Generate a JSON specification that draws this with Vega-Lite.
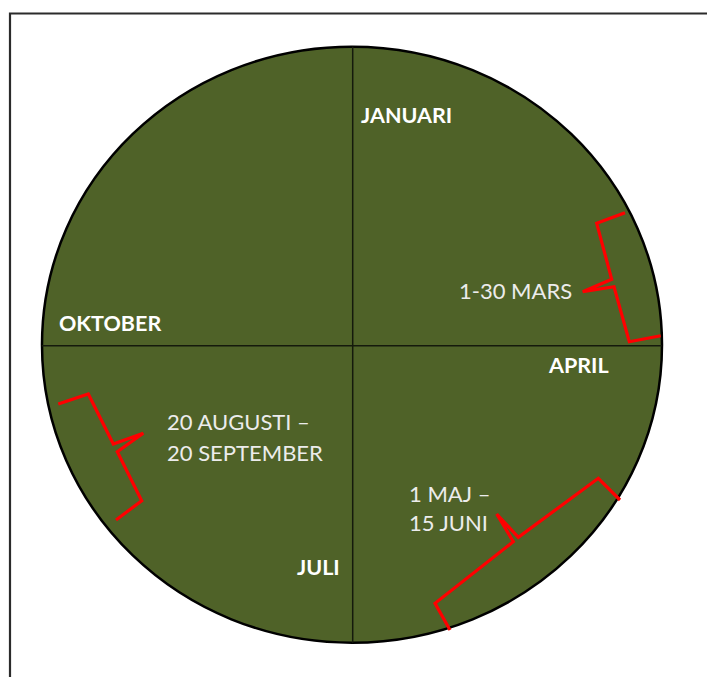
{
  "$schema": "https://vega.github.io/schema/vega-lite/v6.json",
  "width": 707,
  "height": 677,
  "padding": 0,
  "autosize": {"type": "none"},
  "background": "#ffffff",
  "config": {"view": {"stroke": null}},
  "datasets": {
    "frame": [{"x": 10, "y": 13.5, "x2": 740, "y2": 720}],
    "disc": [{"x": 352, "y": 344.7}],
    "cross": [
      {"x": 352.7, "y": 46.7, "x2": 352.7, "y2": 642.7},
      {"x": 41.7, "y": 345.7, "x2": 661.7, "y2": 345.7}
    ],
    "months": [
      {"label": "JANUARI", "x": 361, "y": 117},
      {"label": "APRIL", "x": 549, "y": 367},
      {"label": "OKTOBER", "x": 59, "y": 325},
      {"label": "JULI", "x": 297, "y": 569}
    ],
    "periods": [
      {"label": "1-30 MARS", "x": 459, "y": 292},
      {"label": "20 AUGUSTI –", "x": 167, "y": 423},
      {"label": "20 SEPTEMBER", "x": 167, "y": 454},
      {"label": "1 MAJ –", "x": 409, "y": 495},
      {"label": "15 JUNI", "x": 409, "y": 524}
    ],
    "braces": [
      {"brace": "mars", "order": 1, "x": 625, "y": 212.7},
      {"brace": "mars", "order": 2, "x": 596.7, "y": 223.3},
      {"brace": "mars", "order": 3, "x": 611.7, "y": 279.3},
      {"brace": "mars", "order": 4, "x": 582.7, "y": 291.7},
      {"brace": "mars", "order": 5, "x": 614, "y": 286.7},
      {"brace": "mars", "order": 6, "x": 629.3, "y": 341.7},
      {"brace": "mars", "order": 7, "x": 660.7, "y": 335.7},
      {"brace": "aug", "order": 1, "x": 58.3, "y": 404},
      {"brace": "aug", "order": 2, "x": 88.3, "y": 394},
      {"brace": "aug", "order": 3, "x": 113.3, "y": 444},
      {"brace": "aug", "order": 4, "x": 143.3, "y": 433.3},
      {"brace": "aug", "order": 5, "x": 117.3, "y": 451.7},
      {"brace": "aug", "order": 6, "x": 141.7, "y": 500.7},
      {"brace": "aug", "order": 7, "x": 116, "y": 520},
      {"brace": "maj", "order": 1, "x": 620, "y": 500},
      {"brace": "maj", "order": 2, "x": 598.3, "y": 478.3},
      {"brace": "maj", "order": 3, "x": 518.3, "y": 537.3},
      {"brace": "maj", "order": 4, "x": 496.7, "y": 514},
      {"brace": "maj", "order": 5, "x": 513.3, "y": 541.7},
      {"brace": "maj", "order": 6, "x": 435, "y": 603.3},
      {"brace": "maj", "order": 7, "x": 450, "y": 630}
    ]
  },
  "encoding": {
    "x": {"field": "x", "type": "quantitative", "scale": {"domain": [0, 707], "nice": false, "zero": false}, "axis": null},
    "y": {"field": "y", "type": "quantitative", "scale": {"domain": [0, 677], "nice": false, "zero": false, "reverse": true}, "axis": null}
  },
  "layer": [
    {
      "data": {"name": "frame"},
      "mark": {"type": "rect", "fill": null, "stroke": "#2b2b2b", "strokeWidth": 2.2, "clip": false},
      "encoding": {"x2": {"field": "x2"}, "y2": {"field": "y2"}}
    },
    {
      "data": {"name": "disc"},
      "mark": {
        "type": "point",
        "filled": true,
        "fill": "#4F6228",
        "fillOpacity": 1,
        "stroke": "#000000",
        "strokeWidth": 2.5,
        "opacity": 1,
        "size": 384400,
        "shape": "M-1,0C-1,-0.531,-0.5523,-0.9613,0,-0.9613C0.5523,-0.9613,1,-0.531,1,0C1,0.531,0.5523,0.9613,0,0.9613C-0.5523,0.9613,-1,0.531,-1,0Z"
      }
    },
    {
      "data": {"name": "cross"},
      "mark": {"type": "rule", "stroke": "#151a0c", "strokeWidth": 1.5},
      "encoding": {"x2": {"field": "x2"}, "y2": {"field": "y2"}}
    },
    {
      "data": {"name": "braces"},
      "mark": {"type": "line", "stroke": "#ff0000", "strokeWidth": 3.2, "strokeJoin": "miter", "strokeCap": "butt"},
      "encoding": {
        "detail": {"field": "brace", "type": "nominal"},
        "order": {"field": "order", "type": "quantitative"}
      }
    },
    {
      "data": {"name": "months"},
      "mark": {"type": "text", "align": "left", "baseline": "middle", "font": "Lato", "fontWeight": "bold", "fontSize": 21.5, "fill": "#ffffff"},
      "encoding": {"text": {"field": "label", "type": "nominal"}}
    },
    {
      "data": {"name": "periods"},
      "mark": {"type": "text", "align": "left", "baseline": "middle", "font": "Lato", "fontSize": 22, "fill": "#ececec"},
      "encoding": {"text": {"field": "label", "type": "nominal"}}
    }
  ]
}
